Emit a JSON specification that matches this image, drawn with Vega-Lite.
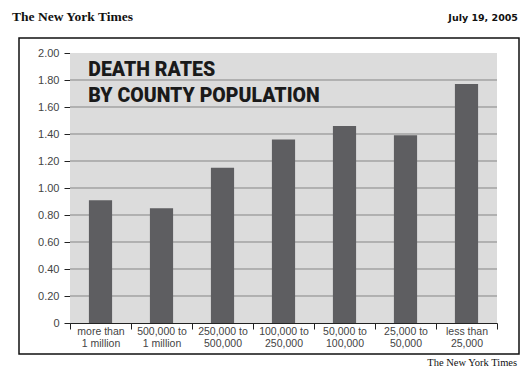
{
  "$schema": "https://vega.github.io/schema/vega-lite/v6.json",
  "width": 500,
  "height": 316,
  "autosize": {"type": "none"},
  "padding": {"left": 19, "top": 38, "right": 13, "bottom": 23},
  "background": "white",
  "config": {
    "view": {"stroke": "#111", "strokeWidth": 1.5, "fill": "white"},
    "axisLeft": {"offset": -51, "grid": false, "domainColor": "#222", "tickColor": "#222", "tickSize": 6, "labelFont": "Liberation Sans", "labelFontSize": 11, "labelColor": "#444", "labelPadding": 5, "labelOverlap": false, "title": null, "tickCount": 10, "values": [0, 0.2, 0.4, 0.6, 0.8, 1.0, 1.2, 1.4, 1.6, 1.8, 2.0], "labelExpr": "datum.value == 0 ? '0' : format(datum.value, '.2f')"},
    "axisBottom": {"offset": -31, "grid": false, "domainColor": "#222", "tickColor": "#222", "tickSize": 6, "labelFont": "Liberation Sans", "labelFontSize": 10.5, "labelColor": "#444", "labelPadding": -3, "labelAngle": 0, "title": null, "tickBand": "extent", "labelLineHeight": 12}
  },
  "datasets": {
    "rates": [
      {"group": "more than 1 million", "rate": 0.91},
      {"group": "500,000 to 1 million", "rate": 0.85},
      {"group": "250,000 to 500,000", "rate": 1.15},
      {"group": "100,000 to 250,000", "rate": 1.36},
      {"group": "50,000 to 100,000", "rate": 1.46},
      {"group": "25,000 to 50,000", "rate": 1.39},
      {"group": "less than 25,000", "rate": 1.77}
    ],
    "grid": [
      {"level": 0.2}, {"level": 0.4}, {"level": 0.6}, {"level": 0.8}, {"level": 1.0},
      {"level": 1.2}, {"level": 1.4}, {"level": 1.6}, {"level": 1.8}
    ]
  },
  "layer": [
    {
      "data": {"name": "rates"},
      "mark": {"type": "rect", "color": "#dcdcdc"},
      "encoding": {
        "x": {"field": "group", "type": "nominal", "sort": null, "scale": {"range": [51, 478], "paddingInner": 0, "paddingOuter": 0},
              "axis": {"labelExpr": "split(replace(datum.label, regexp('(to|than) '), '$1|'), '|')"}},
        "y": {"datum": 0, "type": "quantitative", "scale": {"domain": [0, 2], "range": [285, 15], "nice": false}},
        "y2": {"datum": 2}
      }
    },
    {
      "data": {"name": "grid"},
      "mark": {"type": "rule", "color": "#858585", "strokeWidth": 1},
      "encoding": {
        "y": {"field": "level", "type": "quantitative"},
        "x": {"datum": "more than 1 million", "bandPosition": 0},
        "x2": {"datum": "less than 25,000", "bandPosition": 1}
      }
    },
    {
      "data": {"name": "rates"},
      "mark": {"type": "bar", "color": "#5e5e61", "width": {"band": 0.38}},
      "encoding": {
        "x": {"field": "group", "type": "nominal", "sort": null},
        "y": {"field": "rate", "type": "quantitative"}
      }
    },
    {
      "data": {"values": [{}]},
      "mark": {"type": "text", "text": ["DEATH RATES", "BY COUNTY POPULATION"], "align": "left", "baseline": "alphabetic", "font": "Roboto", "fontWeight": 900, "fontSize": 19.5, "lineHeight": 26, "color": "#1a1a1a"},
      "encoding": {
        "x": {"datum": "more than 1 million", "bandPosition": 0.3},
        "y": {"datum": 1.83, "type": "quantitative"}
      }
    },
    {
      "data": {"values": [{}]},
      "mark": {"type": "text", "text": "The New York Times", "align": "left", "baseline": "alphabetic", "font": "Liberation Serif", "fontWeight": "bold", "fontSize": 13.5, "color": "#111"},
      "encoding": {
        "x": {"datum": "more than 1 million", "bandPosition": -0.95},
        "y": {"datum": 2.237, "type": "quantitative"}
      }
    },
    {
      "data": {"values": [{}]},
      "mark": {"type": "text", "text": "July 19, 2005", "align": "right", "baseline": "alphabetic", "font": "DejaVu Sans", "fontWeight": "bold", "fontSize": 9.5, "color": "#111"},
      "encoding": {
        "x": {"datum": "less than 25,000", "bandPosition": 1.344},
        "y": {"datum": 2.237, "type": "quantitative"}
      }
    },
    {
      "data": {"values": [{}]},
      "mark": {"type": "text", "text": "The New York Times", "align": "right", "baseline": "alphabetic", "font": "Liberation Serif", "fontSize": 10.5, "color": "#111"},
      "encoding": {
        "x": {"datum": "less than 25,000", "bandPosition": 1.33},
        "y": {"datum": -0.3185, "type": "quantitative"}
      }
    }
  ]
}
